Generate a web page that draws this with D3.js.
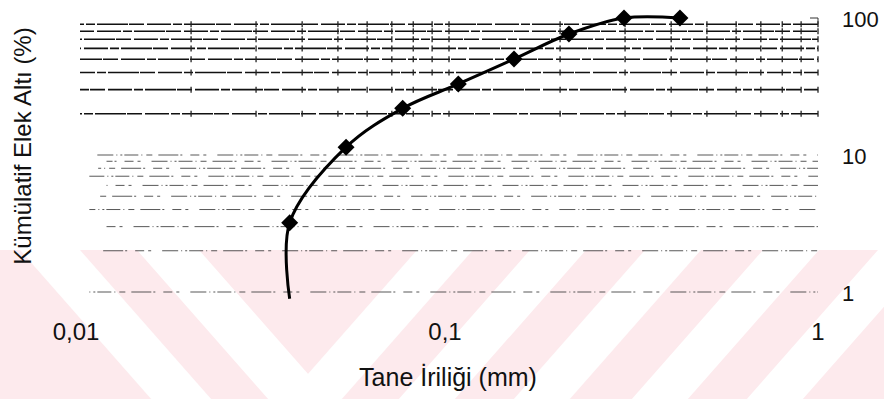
<!DOCTYPE html>
<html>
<head>
<meta charset="utf-8">
<script src="https://cdn.jsdelivr.net/npm/d3@7"></script>
<style>
  body { margin: 0; background: #fff; }
  text { font-family: "Liberation Sans", Arial, sans-serif; fill: #111; }
</style>
</head>
<body>
<script>
// grain size (mm) and cumulative passing (%)
var sizes   = [0.037, 0.037, 0.0526, 0.0749, 0.106, 0.150, 0.2114, 0.298, 0.4226];
var passing = [0.894, 3.2,   11.4,   21.9,   33.0,  50.2,  76.4,   100,   100];
var marked  = [false, true,  true,   true,   true,  true,  true,   true,  true];

var xTickValues = [0.01, 0.1, 1];
var xTickLabels = ["0,01", "0,1", "1"];
var yTickValues = [1, 10, 100];
var yTickLabels = ["1", "10", "100"];
var yGridValues = [1, 2, 3, 4, 5, 6, 7, 8, 9, 10, 20, 30, 40, 50, 60, 70, 80, 90];
var xMinorValues = [0.02, 0.03, 0.04, 0.05, 0.06, 0.07, 0.08, 0.09, 0.1,
                    0.2, 0.3, 0.4, 0.5, 0.6, 0.7, 0.8, 0.9, 1];

var w = 884, h = 399;

var svg = d3.select("body").append("svg")
    .attr("width", w)
    .attr("height", h);

var xScale = d3.scaleLog().domain([0.01, 1]).range([80, 818]);
var yScale = d3.scaleLog().domain([1, 100]).range([292, 18]);

// pale pink watermark with white diagonal stripes
var wmTop = 250, slope = 0.88;
var wm = svg.append("g");
wm.append("rect")
    .attr("x", 0).attr("y", wmTop)
    .attr("width", w).attr("height", h - wmTop)
    .attr("fill", "#fdeaed");
function stripe(x0, wd, dir) {
    var dy = h - wmTop;
    var x1 = x0 + dir * slope * dy;
    return [[x0, wmTop], [x0 + wd, wmTop], [x1 + wd, h], [x1, h]];
}
[[20, 60, 1], [137, 62, 1], [417, 56, -1], [530, 56, -1], [645, 56, -1], [763, 56, -1], [878, 56, -1]]
    .forEach(function(s) {
        wm.append("polygon")
            .attr("points", stripe(s[0], s[1], s[2]).map(function(p) { return p.join(","); }).join(" "))
            .attr("fill", "#fff");
    });

// gridlines
var grid = svg.append("g");
grid.selectAll("line.h")
    .data(yGridValues)
    .enter()
    .append("line")
    .attr("x1", function(d, i) { return d >= 20 ? xScale(0.01) : xScale(0.0106 + (i % 3) * 0.0006); })
    .attr("x2", xScale(1))
    .attr("y1", function(d) { return yScale(d); })
    .attr("y2", function(d) { return yScale(d); })
    .attr("stroke", function(d) { return d >= 20 ? "#111" : "#3a3a3a"; })
    .attr("stroke-width", function(d) { return d >= 20 ? 1.6 : 0.85; })
    .attr("stroke-dasharray", function(d) {
        return d >= 20 ? "24,2,9,2,31,1,15,3" : "1,3,2,2,14,3,1,4,6,6,20,2,2,8,9,4,3,11,16,3";
    })
    .attr("stroke-dashoffset", function(d, i) { return i * 37; });

// small tick crossings on the upper gridlines
var crossData = [];
yGridValues.forEach(function(v) {
    if (v >= 20) xMinorValues.forEach(function(m) { crossData.push([m, v]); });
});
grid.selectAll("line.c")
    .data(crossData)
    .enter()
    .append("line")
    .attr("x1", function(d) { return xScale(d[0]); })
    .attr("x2", function(d) { return xScale(d[0]); })
    .attr("y1", function(d) { return yScale(d[1]) - 3; })
    .attr("y2", function(d) { return yScale(d[1]) + 3; })
    .attr("stroke", "#222")
    .attr("stroke-width", 1.3);

// right border fragment at the top
grid.append("path")
    .attr("d", "M" + (xScale(1) - 8) + "," + yScale(100) + "H" + xScale(1) + "V" + yScale(90))
    .attr("fill", "none")
    .attr("stroke", "#333")
    .attr("stroke-width", 1);

// curve
var pts = sizes.map(function(s, i) { return [s, passing[i], marked[i]]; });
var line = d3.line()
    .x(function(d) { return xScale(d[0]); })
    .y(function(d) { return yScale(d[1]); })
    .curve(d3.curveCatmullRom.alpha(0.5));

svg.append("path")
    .datum(pts)
    .attr("d", line)
    .attr("fill", "none")
    .attr("stroke", "#000")
    .attr("stroke-width", 3);

svg.selectAll("path.mk")
    .data(pts.filter(function(d) { return d[2]; }))
    .enter()
    .append("path")
    .attr("class", "mk")
    .attr("d", "M0,-8.5L8.5,0L0,8.5L-8.5,0Z")
    .attr("transform", function(d) { return "translate(" + xScale(d[0]) + "," + yScale(d[1]) + ")"; })
    .attr("fill", "#000");

// tick labels
svg.selectAll("text.xt")
    .data(xTickValues)
    .enter()
    .append("text")
    .attr("x", function(d) { return xScale(d) - (d === 1 ? 0 : 4); })
    .attr("y", 340)
    .attr("text-anchor", "middle")
    .attr("font-size", 24)
    .text(function(d, i) { return xTickLabels[i]; });

svg.selectAll("text.yt")
    .data(yTickValues)
    .enter()
    .append("text")
    .attr("x", 842)
    .attr("y", function(d) { return yScale(d); })
    .attr("dy", "0.42em")
    .attr("font-size", 22)
    .text(function(d, i) { return yTickLabels[i]; });

// axis titles
svg.append("text")
    .attr("x", 448)
    .attr("y", 386)
    .attr("text-anchor", "middle")
    .attr("font-size", 25)
    .text("Tane İriliği (mm)");

svg.append("text")
    .attr("transform", "translate(31,146) rotate(-90)")
    .attr("text-anchor", "middle")
    .attr("font-size", 24)
    .text("Kümülatif Elek Altı  (%)");
</script>
</body>
</html>
